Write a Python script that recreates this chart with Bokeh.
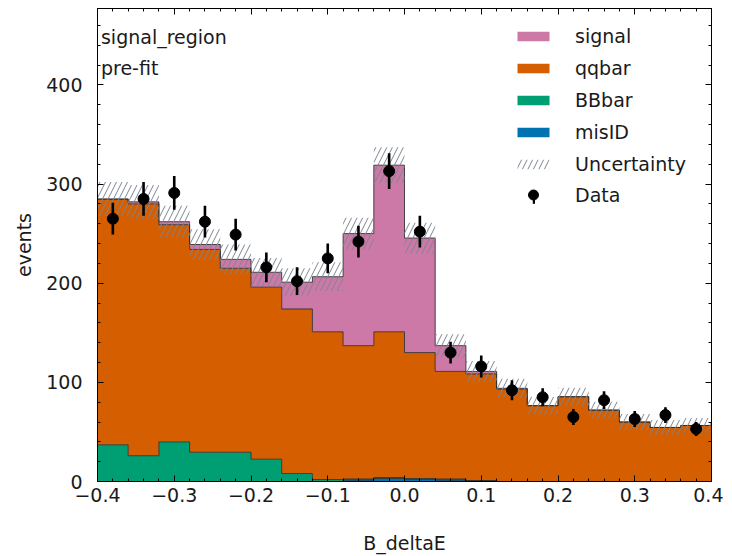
import numpy as np
from bokeh.plotting import figure
from bokeh.models import Range1d, LinearAxis, Legend, LegendItem, Label, FixedTicker
from bokeh.embed import file_html
from bokeh.resources import INLINE

# ---- data ----
bin_edges = [-0.40, -0.36, -0.32, -0.28, -0.24, -0.20, -0.16, -0.12, -0.08, -0.04,
             0.00, 0.04, 0.08, 0.12, 0.16, 0.20, 0.24, 0.28, 0.32, 0.36, 0.40]
signal = [0.5, 2, 3, 5, 9, 15, 27, 55.5, 113, 168, 115.5, 26, 2.5, 1, 0, 0, 0, 0, 0, 0]
qqbar = [247.5, 254, 219, 204.5, 185.5, 173.5, 166, 149, 134.5, 147, 127, 108.5, 107.5,
         93, 76.5, 85.5, 72, 60, 54.5, 56.5]
bbbar = [37, 26, 40, 29.5, 29.5, 22.5, 8, 2, 1, 1, 1, 1, 0.5, 0, 0, 0, 0, 0, 0, 0]
misid = [0, 0, 0, 0, 0, 0, 0, 0, 1.5, 3, 2, 1.5, 0.5, 0, 0, 0, 0, 0, 0, 0]
uncertainty = [17, 17, 16, 15.5, 15, 14.5, 14, 14.5, 16, 18, 15.5, 11.5, 10.5, 9.5, 9, 9,
               8.5, 8, 7.5, 7.5]
data_counts = [265, 285, 291, 262, 249, 216, 202, 225, 242, 313, 252, 130, 116, 92, 85, 65,
               82, 63, 67, 53]
data_errors = [16, 17, 17, 16, 16, 15, 14, 15, 16, 18, 16, 11, 11, 10, 9, 8, 9, 8, 8, 7]

x_ticks = [-0.4, -0.3, -0.2, -0.1, 0.0, 0.1, 0.2, 0.3, 0.4]
x_tick_labels = ["\u22120.4", "\u22120.3", "\u22120.2", "\u22120.1", "0.0", "0.1", "0.2", "0.3", "0.4"]
y_ticks = [0, 100, 200, 300, 400]
y_tick_labels = ["0", "100", "200", "300", "400"]

colors = {"signal": "#CC79A7", "qqbar": "#D55E00", "BBbar": "#009E73", "misID": "#0072B2"}

FONT = "DejaVu Sans"
TXT = "#1a1a1a"

# ---- derived ----
edges = np.array(bin_edges)
centers = (edges[:-1] + edges[1:]) / 2
m = np.array(misid, float)
b = np.array(bbbar, float)
q = np.array(qqbar, float)
s = np.array(signal, float)
u = np.array(uncertainty, float)
d = np.array(data_counts, float)
e = np.array(data_errors, float)

lvl0 = np.zeros_like(m)
lvl1 = m
lvl2 = m + b
lvl3 = lvl2 + q
lvl4 = lvl3 + s


def ext(a):
    a = list(a)
    return a + [a[-1]]


p = figure(frame_width=614, frame_height=473,
           x_range=Range1d(-0.4, 0.4), y_range=Range1d(0, 477),
           output_backend="svg", toolbar_location=None,
           min_border_left=97, min_border_top=8, min_border_right=12, min_border_bottom=0)
p.xgrid.visible = False
p.ygrid.visible = False
p.outline_line_color = "black"
p.outline_line_width = 1
p.background_fill_color = "white"
p.border_fill_color = "white"

bottom_ax = p.below[0]
left_ax = p.left[0]

layers = [("misID", lvl0, lvl1), ("BBbar", lvl1, lvl2), ("qqbar", lvl2, lvl3), ("signal", lvl3, lvl4)]
area_r = {}
for name, lo, hi in layers:
    area_r[name] = p.varea_step(x=list(edges), y1=ext(lo), y2=ext(hi), step_mode="after",
                                fill_color=colors[name])
for name, lo, hi in layers:
    p.step(x=list(edges), y=ext(hi), mode="after", line_color="#2b2b2b", line_width=1,
           line_alpha=0.85)

unc_r = p.varea_step(x=list(edges), y1=ext(lvl4 - u), y2=ext(lvl4 + u), step_mode="after",
                     fill_color=None, fill_alpha=0, hatch_pattern="/", hatch_color="#7d8590",
                     hatch_scale=11, hatch_weight=1.0)

# error bars as thin vertical bars (their legend symbol is a vertical stroke)
err_r = p.vbar(x=centers, width=0.0034, bottom=d - e, top=d + e, fill_color="black",
               line_color=None)
dot_r = p.scatter(x=centers, y=d, size=11, color="black")

# ---- axes ----
x_minor = [round(-0.4 + 0.02 * i, 2) for i in range(41)]
y_minor = list(range(0, 480, 20))
xt = FixedTicker(ticks=x_ticks, minor_ticks=x_minor)
yt = FixedTicker(ticks=y_ticks, minor_ticks=y_minor)

top_ax = LinearAxis(ticker=xt)
right_ax = LinearAxis(ticker=yt)
p.add_layout(top_ax, "above")
p.add_layout(right_ax, "right")

bottom_ax.ticker = xt
left_ax.ticker = yt
bottom_ax.major_label_overrides = {t: l for t, l in zip(x_ticks, x_tick_labels)}
left_ax.major_label_overrides = {t: l for t, l in zip(y_ticks, y_tick_labels)}

for ax in [bottom_ax, left_ax, top_ax, right_ax]:
    ax.major_tick_in = 6
    ax.major_tick_out = 0
    ax.minor_tick_in = 3
    ax.minor_tick_out = 0
    ax.axis_line_color = "black"
    ax.major_tick_line_color = "black"
    ax.minor_tick_line_color = "black"
    ax.major_label_text_font = FONT
    ax.major_label_text_color = TXT
    ax.major_label_text_font_size = "19px"
    ax.axis_label_text_font = FONT
    ax.axis_label_text_font_size = "19px"
    ax.axis_label_text_font_style = "normal"
    ax.axis_label_text_color = TXT

for ax in [top_ax, right_ax]:
    ax.major_label_text_font_size = "0px"
    ax.major_label_standoff = 0

bottom_ax.axis_label = "B_deltaE"
bottom_ax.major_label_standoff = 6
bottom_ax.axis_label_standoff = 27
left_ax.axis_label = "events"
left_ax.major_label_standoff = 15
left_ax.axis_label_standoff = 8

# ---- annotations ----
p.add_layout(Label(x=-0.3955, y=448, text="signal_region", text_font=FONT,
                   text_font_size="19px", text_color=TXT, text_baseline="middle"))
p.add_layout(Label(x=-0.3955, y=417, text="pre-fit", text_font=FONT,
                   text_font_size="19px", text_color=TXT, text_baseline="middle"))

# ---- legends ----
leg_items = [LegendItem(label=name, renderers=[area_r[name]])
             for name in ["signal", "qqbar", "BBbar", "misID"]]
leg_items.append(LegendItem(label="Uncertainty", renderers=[unc_r]))

common = dict(label_standoff=22, padding=0, margin=0,
              border_line_color=None, background_fill_alpha=0,
              label_text_font=FONT, label_text_font_size="19px", label_text_color=TXT)

legA = Legend(items=leg_items, location=(416, 306), orientation="vertical",
              glyph_width=40, glyph_height=12, spacing=10, **common)
p.add_layout(legA)

legC = Legend(items=[LegendItem(label="Data", renderers=[dot_r])], location=(416, 274),
              glyph_width=40, glyph_height=25, **common)
p.add_layout(legC)
legD = Legend(items=[LegendItem(label=" ", renderers=[err_r])], location=(434.5, 276),
              glyph_width=3, glyph_height=17, **common)
p.add_layout(legD)

open("out.html", "w").write(file_html(p, INLINE))
